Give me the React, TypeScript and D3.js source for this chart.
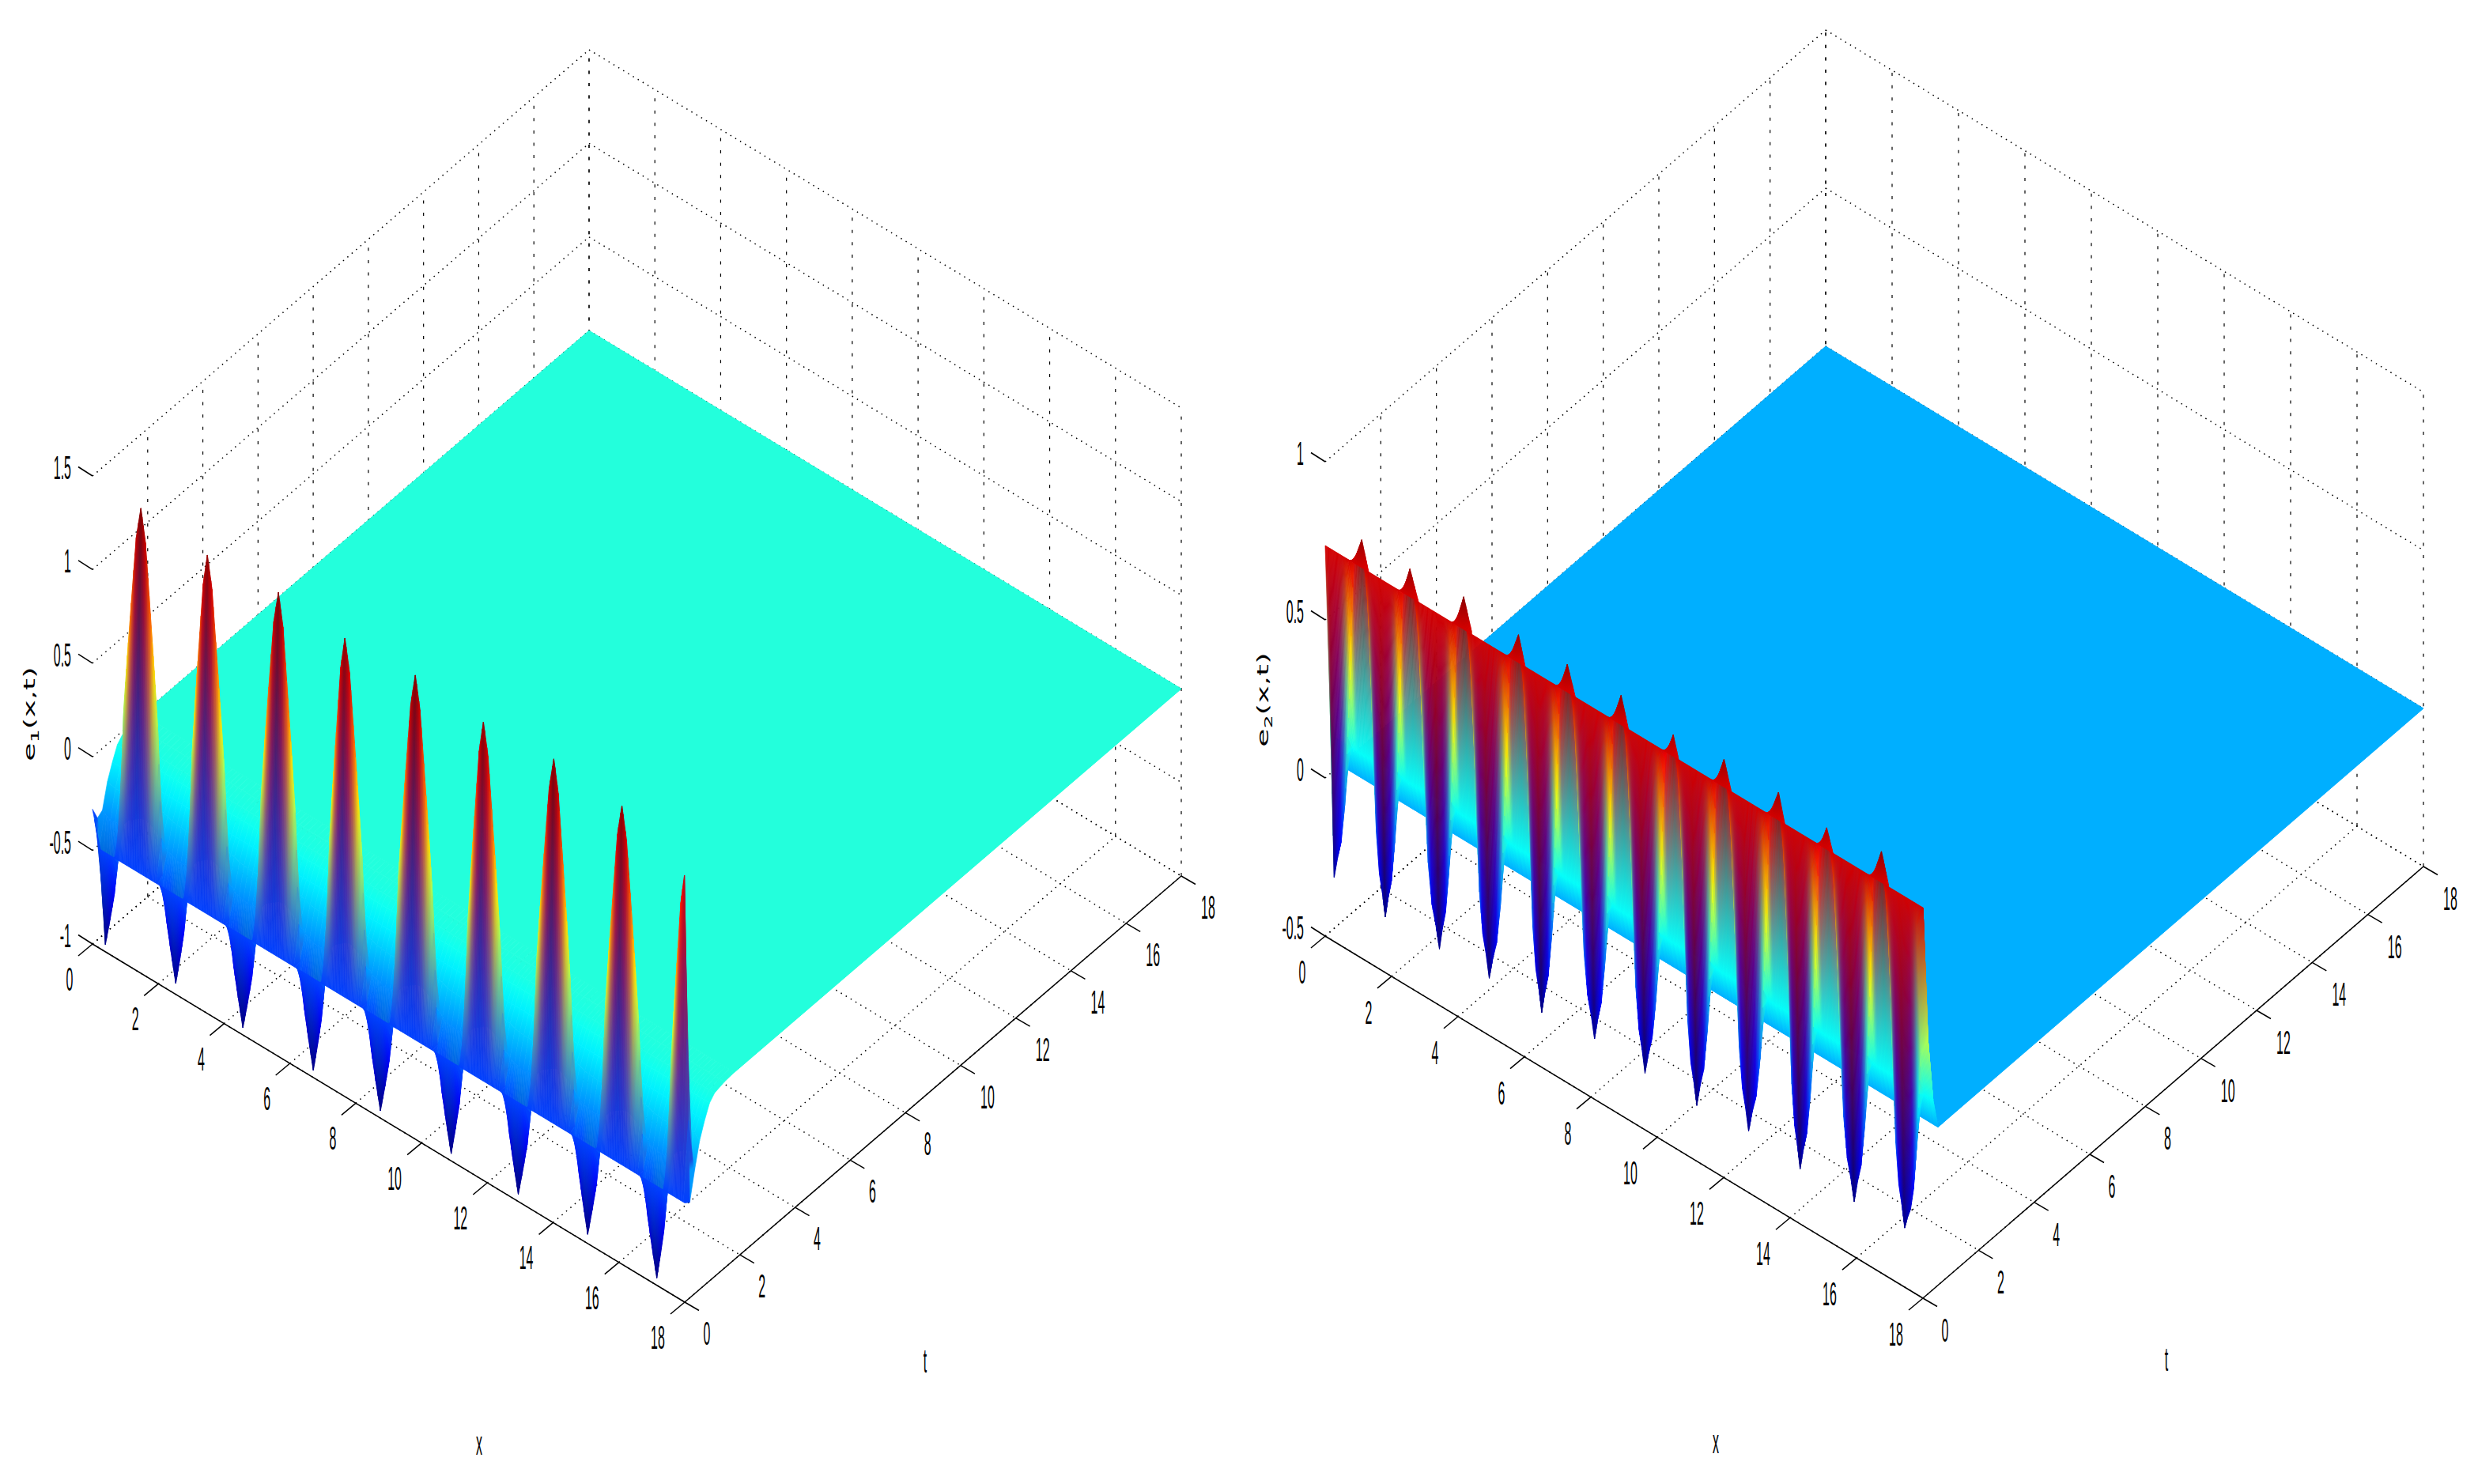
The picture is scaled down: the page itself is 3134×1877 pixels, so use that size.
// Two MATLAB-style surf plots of e1(x,t) and e2(x,t), drawn as an SVG mesh with D3 scales.
import * as d3 from 'd3';

const WIDTH = 3134;
const HEIGHT = 1877;

const axisTicks = [0, 2, 4, 6, 8, 10, 12, 14, 16, 18];
const e1ZTicks = [-1, -0.5, 0, 0.5, 1, 1.5];
const e2ZTicks = [-0.5, 0, 0.5, 1];

// rows of the mesh along t
const e1Rows = [0, 0.18, 0.36, 0.54, 0.72, 0.9, 1.08, 1.44, 1.8];
const e1RowLevel = [-0.47, -0.4, -0.33, -0.2, -0.12, -0.05, -0.02, -0.005, 0];
const e1RowResidual = [0, 1, 0.05, 0.015, 0, 0, 0, 0, 0];
const e2Rows = [0, 0.18, 0.36, 0.54, 0.72];
const e2RowLevel = [0.735, 0.2, 0.1, 0, 0];
const e2RowResidual = [0, 1, 0, 0, 0];

// second row of e1: dips and peaks
const e1DipX = [0.24, 2.38, 4.42, 6.56, 8.6, 10.75, 12.79, 14.9, 17.0];
const e1DipZ = [-1.0, -0.98, -1.0, -1.0, -1.0, -1.0, -1.0, -0.99, -1.0];
const e1PeakX = [1.32, 3.34, 5.5, 7.52, 9.66, 11.73, 13.87, 15.94, 17.84];
const e1PeakZ = [1.445, 1.41, 1.44, 1.41, 1.44, 1.41, 1.44, 1.41, 1.24];
const e1FlankX = [0.13, 0.25, 0.38, 0.52, 0.62, 0.73, 0.87];
const e1FlankZ = [0.06, 0.12, 0.22, 0.54, 0.66, 0.78, 0.93];
const e1Start = -0.35;
const e1End = -0.49;
const e1EdgeColorZ = -0.54;

// second row of e2
const e2DipX = [0.12, 1.66, 3.29, 4.79, 6.37, 7.96, 9.48, 11.04, 12.6, 14.15, 15.78, 17.3];
const e2DipZ = [-0.32, -0.348, -0.345, -0.342, -0.35, -0.332, -0.344, -0.347, -0.329, -0.35, -0.35, -0.336];
const e2PeakX = [0.95, 2.4, 4.02, 5.67, 7.14, 8.76, 10.33, 11.86, 13.5, 14.95, 16.6, 18];
const e2PeakZ = [0.8, 0.8, 0.815, 0.8, 0.8, 0.805, 0.78, 0.8, 0.8, 0.78, 0.81, 0.3];
const e2FlankX = [0.12, 0.25, 0.38, 0.5, 0.6, 0.7, 0.85];
const e2FlankZ = [0.06, 0.11, 0.22, 0.42, 0.64, 0.92, 0.96];
const e2Start = 0.2;
const e2End = 0.3;

const jet = d3
  .scaleLinear<string>()
  .domain([0, 0.125, 0.375, 0.625, 0.875, 1])
  .range(['#000080', '#0000ff', '#00ffff', '#ffff00', '#ff0000', '#800000'])
  .clamp(true);

type Knot = { x: number; z: number };

// walk dip -> peak -> dip along x, putting the flank knots between each pair
function buildProfile(dipX, dipZ, peakX, peakZ, flankX, flankZ, start, end): Knot[] {
  const knots: Knot[] = [{ x: 0, z: start }];
  dipX.forEach((dx: number, i: number) => {
    knots.push({ x: dx, z: dipZ[i] });
    if (i < peakX.length) {
      flankX.forEach((f: number, k: number) => {
        knots.push({ x: dx + (peakX[i] - dx) * f, z: dipZ[i] + (peakZ[i] - dipZ[i]) * flankZ[k] });
      });
      knots.push({ x: peakX[i], z: peakZ[i] });
      if (i + 1 < dipX.length) {
        for (let k = flankX.length - 1; k >= 0; k--) {
          const f = flankX[k];
          knots.push({
            x: dipX[i + 1] + (peakX[i] - dipX[i + 1]) * f,
            z: dipZ[i + 1] + (peakZ[i] - dipZ[i + 1]) * flankZ[k],
          });
        }
      }
    }
  });
  knots.push({ x: 18, z: end });
  return knots;
}

function Surface({ id, project, colorOf, rows, rowLevel, residual, profile, firstEdge, edgeColorZ }) {
  const defs: any[] = [];
  const faces: any[] = [];

  const zAt = (r: number, i: number) => {
    if (r === 0 && i === 0 && firstEdge !== undefined) return firstEdge;
    return rowLevel[r] + residual[r] * (profile[i].z - rowLevel[r]);
  };
  const vertexColor = (r: number, i: number) =>
    colorOf(r === 0 && edgeColorZ !== undefined ? edgeColorZ : zAt(r, i));

  let n = 0;
  // painter's order: back rows first, then x ascending toward the front corner
  for (let r = rows.length - 2; r >= 0; r--) {
    const subs = r <= 1 ? 4 : 1;
    for (let i = 0; i < profile.length - 1; i++) {
      for (let s = 0; s < subs; s++) {
        const a = s / subs;
        const b = (s + 1) / subs;
        const m = (a + b) / 2;
        const lerp = (u: number, v: number, f: number) => u + (v - u) * f;
        const xa = lerp(profile[i].x, profile[i + 1].x, a);
        const xb = lerp(profile[i].x, profile[i + 1].x, b);
        const xm = lerp(profile[i].x, profile[i + 1].x, m);
        const za0 = lerp(zAt(r, i), zAt(r, i + 1), a);
        const zb0 = lerp(zAt(r, i), zAt(r, i + 1), b);
        const za1 = lerp(zAt(r + 1, i), zAt(r + 1, i + 1), a);
        const zb1 = lerp(zAt(r + 1, i), zAt(r + 1, i + 1), b);
        const pts = [
          project(xa, rows[r], za0),
          project(xb, rows[r], zb0),
          project(xb, rows[r + 1], zb1),
          project(xa, rows[r + 1], za1),
        ];
        // vertex colours are mixed in RGB, which is what gives the purple/grey bands
        const c0 = d3.interpolateRgb(vertexColor(r, i), vertexColor(r, i + 1))(m);
        const c1 = d3.interpolateRgb(vertexColor(r + 1, i), vertexColor(r + 1, i + 1))(m);
        const p0 = project(xm, rows[r], lerp(zAt(r, i), zAt(r, i + 1), m));
        const p1 = project(xm, rows[r + 1], lerp(zAt(r + 1, i), zAt(r + 1, i + 1), m));
        const gid = `${id}-g${n++}`;
        defs.push(
          <linearGradient key={gid} id={gid} gradientUnits="userSpaceOnUse"
            x1={p0[0]} y1={p0[1]} x2={p1[0] + 0.01} y2={p1[1] + 0.01}>
            <stop offset="0" stopColor={c0} />
            <stop offset="1" stopColor={c1} />
          </linearGradient>
        );
        faces.push(
          <polygon key={gid} points={pts.map((p) => p.join(',')).join(' ')}
            fill={`url(#${gid})`} stroke={`url(#${gid})`} strokeWidth={0.7} />
        );
      }
    }
  }

  const last = rows[rows.length - 1];
  const sheet = [
    project(0, last, 0),
    project(18, last, 0),
    project(18, 18, 0),
    project(0, 18, 0),
  ];

  return (
    <g>
      <defs>{defs}</defs>
      <polygon points={sheet.map((p) => p.join(',')).join(' ')} fill={colorOf(0)} stroke={colorOf(0)} />
      {faces}
    </g>
  );
}

function TickLabel({ x, y, children, anchor = 'middle' }) {
  return (
    <text transform={`translate(${x},${y}) scale(0.38,1)`} textAnchor={anchor}
      fontFamily="Liberation Sans, Arial, sans-serif" fontSize={42} fill="#000">
      {children}
    </text>
  );
}

function Panel({ id, origin, xEnd, tEnd, zTop, zTicks, zDomain, colorDomain, rows, rowLevel, residual, profile,
  firstEdge, edgeColorZ, sub, labelPos, xLabelPos, tLabelPos, xBase, tBase }) {
  const xPxX = d3.scaleLinear().domain([0, 18]).range([0, xEnd[0] - origin[0]]);
  const xPxY = d3.scaleLinear().domain([0, 18]).range([0, xEnd[1] - origin[1]]);
  const tPxX = d3.scaleLinear().domain([0, 18]).range([0, tEnd[0] - xEnd[0]]);
  const tPxY = d3.scaleLinear().domain([0, 18]).range([0, tEnd[1] - xEnd[1]]);
  const zPx = d3.scaleLinear().domain(zDomain).range([0, zTop - origin[1]]);
  const colorPos = d3.scaleLinear().domain(colorDomain).range([0, 1]);
  const colorOf = (z: number) => jet(colorPos(z));
  const project = (x: number, t: number, z: number) => [
    origin[0] + xPxX(x) + tPxX(t),
    origin[1] + xPxY(x) + tPxY(t) + zPx(z),
  ];
  const zLow = zDomain[0];
  const zHigh = zDomain[1];
  const line = (a: number[], b: number[]) => ({ x1: a[0], y1: a[1], x2: b[0], y2: b[1] });
  const dotted = { stroke: '#000', strokeWidth: 1.5, strokeDasharray: '1.5 5.7', fill: 'none' };
  const dashedV = { stroke: '#000', strokeWidth: 1.2, strokeDasharray: '4 11.6', fill: 'none' };
  const solid = { stroke: '#000', strokeWidth: 1.5 };

  return (
    <g>
      {/* floor grid */}
      {axisTicks.map((v) => (
        <g key={`floor${v}`}>
          <line {...line(project(v, 0, zLow), project(v, 18, zLow))} {...dotted} />
          <line {...line(project(0, v, zLow), project(18, v, zLow))} {...dotted} />
        </g>
      ))}
      {/* back walls */}
      {zTicks.map((z: number) => (
        <g key={`wall${z}`}>
          <line {...line(project(0, 0, z), project(0, 18, z))} {...dotted} />
          <line {...line(project(0, 18, z), project(18, 18, z))} {...dotted} />
        </g>
      ))}
      {axisTicks.filter((v) => v > 0).map((v) => (
        <g key={`vert${v}`}>
          <line {...line(project(0, v, zLow), project(0, v, zHigh))} {...dashedV} />
          <line {...line(project(v, 18, zLow), project(v, 18, zHigh))} {...dashedV} />
        </g>
      ))}
      <line {...line(project(0, 18, zLow), project(0, 18, zHigh))} {...dashedV} />

      {/* axes and ticks */}
      <line {...line(project(0, 0, zLow), project(18, 0, zLow))} {...solid} />
      <line {...line(project(18, 0, zLow), project(18, 18, zLow))} {...solid} />
      {axisTicks.map((v) => {
        const px = project(v, 0, zLow);
        const pt = project(18, v, zLow);
        const wide = v >= 10;
        return (
          <g key={`tick${v}`}>
            <line x1={px[0]} y1={px[1]} x2={px[0] - 18} y2={px[1] + 15} {...solid} />
            <line x1={pt[0]} y1={pt[1]} x2={pt[0] + 18} y2={pt[1] + 10.5} {...solid} />
            <TickLabel x={px[0] - (wide ? 34 : 29)} y={px[1] + xBase}>{v}</TickLabel>
            <TickLabel x={pt[0] + (wide ? 34 : 28)} y={pt[1] + tBase}>{v}</TickLabel>
          </g>
        );
      })}
      {zTicks.map((z: number) => {
        const p = project(0, 0, z);
        return (
          <g key={`ztick${z}`}>
            <line x1={p[0]} y1={p[1]} x2={p[0] - 18} y2={p[1] - 11.5} {...solid} />
            <TickLabel x={p[0] - 27} y={p[1] + 4} anchor="end">{z}</TickLabel>
          </g>
        );
      })}

      <Surface id={id} project={project} colorOf={colorOf} rows={rows} rowLevel={rowLevel}
        residual={residual} profile={profile} firstEdge={firstEdge} edgeColorZ={edgeColorZ} />

      {/* axis titles */}
      <text transform={`translate(${labelPos[0]},${labelPos[1]}) rotate(-90) scale(1.9,0.95)`}
        fontFamily="DejaVu Sans, sans-serif" fontSize={20} textAnchor="middle" fill="#000">
        e<tspan dy={5} fontSize={14}>{sub}</tspan><tspan dy={-5}>(x,t)</tspan>
      </text>
      <TickLabel x={xLabelPos[0]} y={xLabelPos[1]}>x</TickLabel>
      <TickLabel x={tLabelPos[0]} y={tLabelPos[1]}>t</TickLabel>
    </g>
  );
}

export default function App() {
  const e1Profile = buildProfile(e1DipX, e1DipZ, e1PeakX, e1PeakZ, e1FlankX, e1FlankZ, e1Start, e1End);
  const e2Profile = buildProfile(e2DipX, e2DipZ, e2PeakX, e2PeakZ, e2FlankX, e2FlankZ, e2Start, e2End);
  return (
    <svg width={WIDTH} height={HEIGHT} viewBox={`0 0 ${WIDTH} ${HEIGHT}`}
      style={{ position: 'absolute', left: 0, top: 0, background: '#fff' }}>
      <Panel id="e1" origin={[117, 1194]} xEnd={[866, 1647]} tEnd={[1494, 1108]} zTop={602}
        zTicks={e1ZTicks} zDomain={[-1, 1.5]} colorDomain={[-1, 1.445]}
        rows={e1Rows} rowLevel={e1RowLevel} residual={e1RowResidual} profile={e1Profile} firstEdge={-0.28}
        edgeColorZ={e1EdgeColorZ}
        sub="1" labelPos={[44, 903]} xLabelPos={[606, 1840]} tLabelPos={[1170, 1736]} xBase={59} tBase={54} />
      <Panel id="e2" origin={[1676, 1184]} xEnd={[2432, 1642]} tEnd={[3065, 1096]} zTop={584}
        zTicks={e2ZTicks} zDomain={[-0.5, 1]} colorDomain={[-0.35, 0.83]}
        rows={e2Rows} rowLevel={e2RowLevel} residual={e2RowResidual} profile={e2Profile} firstEdge={undefined}
        edgeColorZ={undefined}
        sub="2" labelPos={[1604, 885]} xLabelPos={[2170, 1838]} tLabelPos={[2740, 1734]} xBase={60} tBase={55} />
    </svg>
  );
}
